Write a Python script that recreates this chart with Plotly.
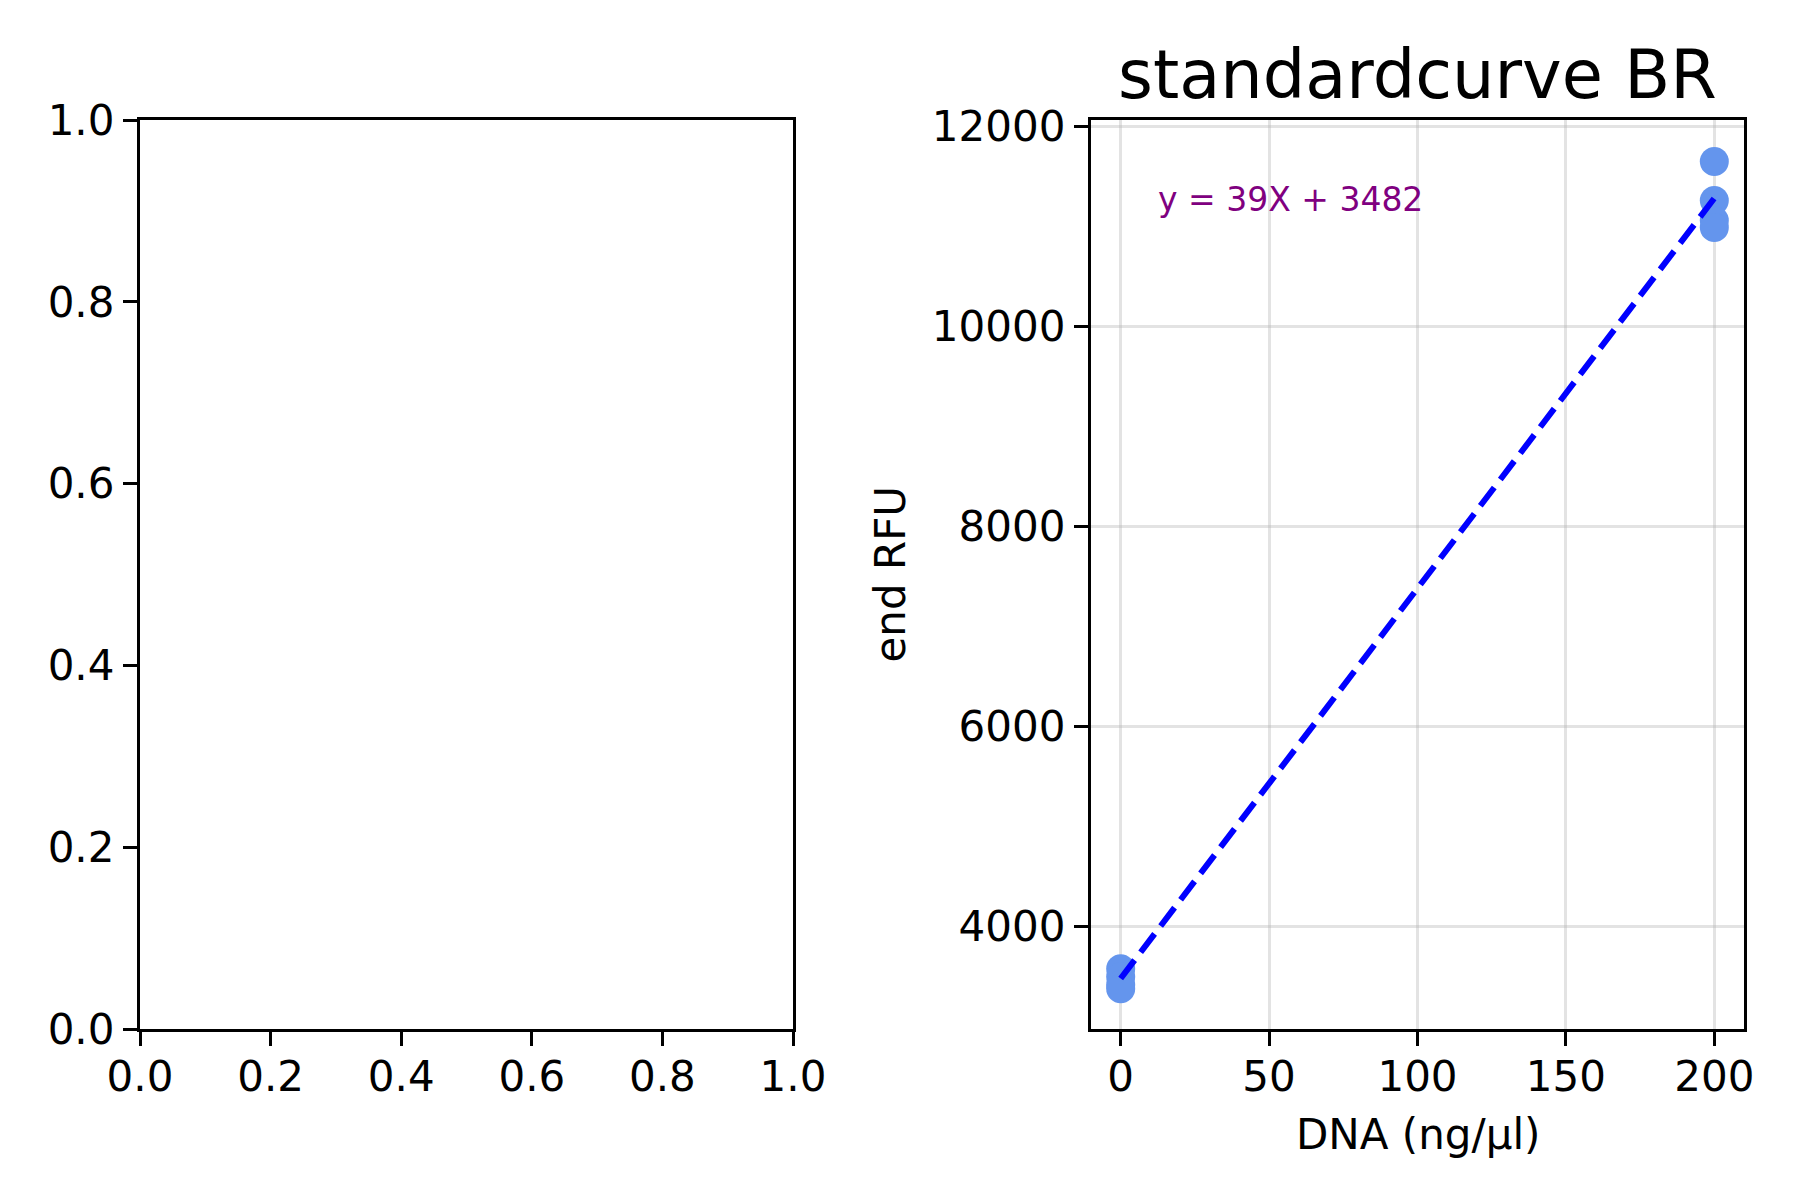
import plotly.graph_objects as go

# standard curve readings (BR kit)
dna_conc = [0, 0, 0, 0, 200, 200, 200, 200]
end_rfu = [3580, 3500, 3420, 3380, 11650, 11260, 11060, 10990]

slope = 39
intercept = 3482
fit_x = [0, 200]
fit_y = [slope * x + intercept for x in fit_x]

left_ticks = [0.0, 0.2, 0.4, 0.6, 0.8, 1.0]
x_ticks = [0, 50, 100, 150, 200]
y_ticks = [4000, 6000, 8000, 10000, 12000]

FONT = "DejaVu Sans"
LINE_W = 3.3
TICK_LEN = 14
W, H = 1800, 1200
OFF = 8  # page body margin in the browser


def px_x(p):
    return (p - OFF) / W


def px_y(p):
    return 1 - (p - OFF) / H


fig = go.Figure()

# empty trace so the left (unused) axes still get drawn
fig.add_trace(go.Scatter(x=[], y=[], mode="markers", xaxis="x", yaxis="y",
                         showlegend=False, hoverinfo="skip"))

fig.add_trace(go.Scatter(
    x=dna_conc, y=end_rfu, mode="markers",
    marker=dict(size=29, color="#6495ED", line=dict(width=0)),
    xaxis="x2", yaxis="y2", showlegend=False,
))
fig.add_trace(go.Scatter(
    x=fit_x, y=fit_y, mode="lines",
    line=dict(color="#0000FF", width=6, dash="23px,10px"),
    xaxis="x2", yaxis="y2", showlegend=False,
))

axis_common = dict(
    showline=True, linecolor="black", linewidth=LINE_W, mirror=True,
    ticks="outside", ticklen=TICK_LEN, tickwidth=LINE_W, tickcolor="black",
    tickfont=dict(family=FONT, size=42, color="black"),
    zeroline=False, automargin=False,
)

Y_DOM = [px_y(1029), px_y(120)]
X1_DOM = [px_x(140), px_x(793)]
X2_DOM = [px_x(1091), px_x(1744)]
grid = "rgba(176,176,176,0.35)"

fig.update_layout(
    width=W, height=H,
    paper_bgcolor="white", plot_bgcolor="white",
    margin=dict(l=0, r=0, t=0, b=0),
    font=dict(family=FONT, color="black"),
    xaxis=dict(domain=X1_DOM, range=[0, 1], tickvals=left_ticks,
               tickformat=".1f", showgrid=False, anchor="y",
               ticklabelstandoff=-6, **axis_common),
    yaxis=dict(domain=Y_DOM, range=[0, 1], tickvals=left_ticks,
               tickformat=".1f", showgrid=False, anchor="x", **axis_common),
    xaxis2=dict(domain=X2_DOM, range=[-10, 210], tickvals=x_ticks,
                showgrid=True, gridcolor=grid, gridwidth=3,
                anchor="y2", ticklabelstandoff=-6, **axis_common),
    yaxis2=dict(domain=Y_DOM, range=[2977, 12064], tickvals=y_ticks,
                tickformat="d", showgrid=True, gridcolor=grid, gridwidth=3,
                anchor="x2", **axis_common),
    annotations=[
        dict(text="standardcurve BR", x=sum(X2_DOM) / 2, y=px_y(75),
             xref="paper", yref="paper", xanchor="center", yanchor="middle",
             showarrow=False, font=dict(family=FONT, size=67, color="black")),
        dict(text="DNA (ng/µl)", x=sum(X2_DOM) / 2, y=px_y(1134),
             xref="paper", yref="paper", xanchor="center", yanchor="middle",
             showarrow=False, font=dict(family=FONT, size=42, color="black")),
        dict(text="end RFU", x=px_x(890), y=sum(Y_DOM) / 2, xref="paper", yref="paper",
             xanchor="center", yanchor="middle", textangle=-90, showarrow=False,
             font=dict(family=FONT, size=42, color="black")),
        dict(text=f"y = {slope}X + {intercept}", x=12, y=11270, xref="x2", yref="y2",
             xanchor="left", yanchor="middle", showarrow=False,
             font=dict(family=FONT, size=33, color="#800080")),
    ],
)

fig.write_html("out.html")
